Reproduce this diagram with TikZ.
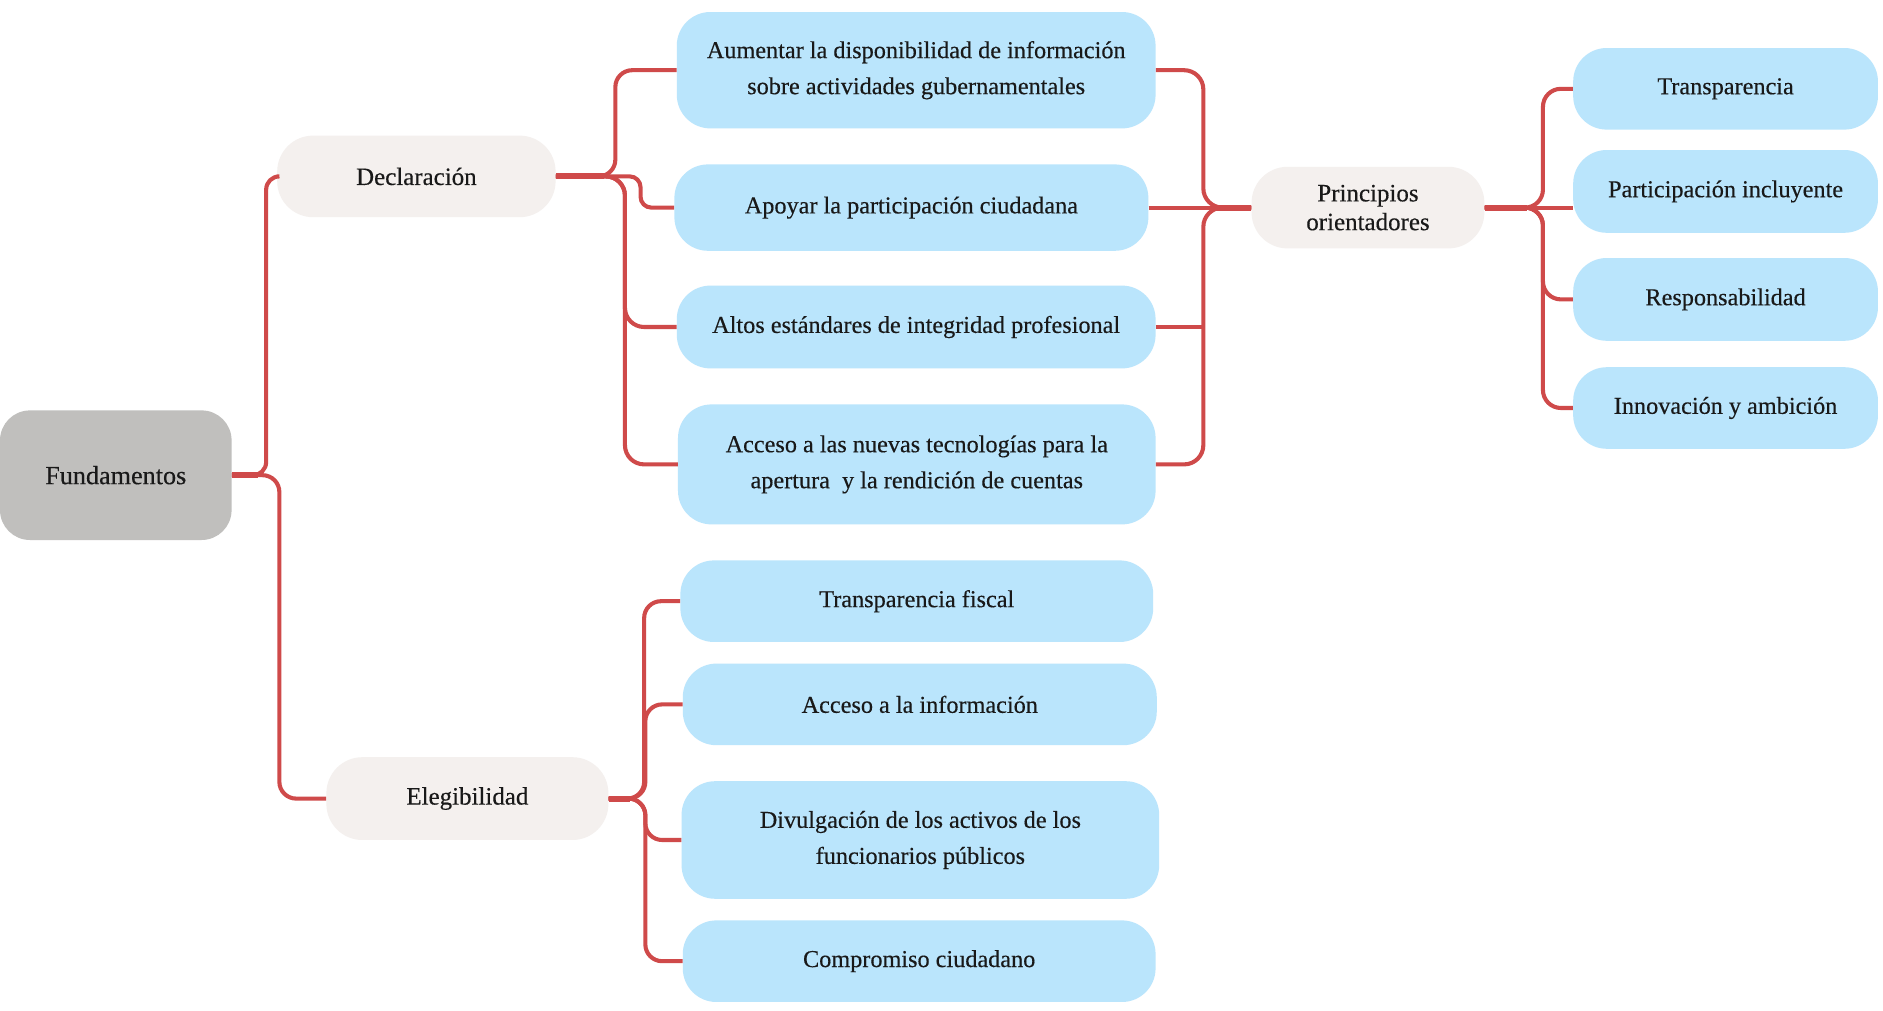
\documentclass[tikz,border=0pt]{standalone}
\usepackage{fontspec}
\setmainfont{Liberation Serif}[FakeBold=0.35]
\usetikzlibrary{calc}
\definecolor{boxblue}{HTML}{BAE5FC}
\definecolor{boxbeige}{HTML}{F4F0EE}
\definecolor{boxgray}{HTML}{C0BFBD}
\definecolor{linered}{HTML}{CF4A4A}
\begin{document}
\begin{tikzpicture}[x=1pt,y=-1pt,
  base/.style={rectangle, inner sep=0pt, align=center, text=black!90,
    font=\fontsize{20.2}{30}\selectfont},
  bluebox/.style={base, fill=boxblue, rounded corners=28pt},
  beigebox/.style={base, fill=boxbeige, rounded corners=30pt, font=\fontsize{20.8}{24}\selectfont},
  graybox/.style={base, fill=boxgray, rounded corners=25pt, font=\fontsize{21.8}{26}\selectfont},
  conn/.style={draw=linered, line width=3.4pt, rounded corners=13pt},
  trunk/.style={draw=linered, line width=5pt}]
\useasboundingbox (0,0) rectangle (1569.2,841.7);
\fill[white] (0,0) rectangle (1569.2,841.7);

% nodes
\node[graybox, minimum width=193pt, minimum height=108pt] (fund) at (96.5,396) {Fundamentos};
\node[beigebox, minimum width=232pt, minimum height=68pt] (decl) at (347,147) {Declaración};
\node[beigebox, minimum width=235pt, minimum height=69pt] (eleg) at (389.5,665.5) {Elegibilidad};
\node[beigebox, minimum width=194pt, minimum height=68pt] (prin) at (1140,173) {Principios\\orientadores};

\node[bluebox, minimum width=399pt, minimum height=97pt] (b1) at (763.5,58.5) {Aumentar la disponibilidad de información\\sobre actividades gubernamentales};
\node[bluebox, minimum width=395pt, minimum height=72pt] (b2) at (759.5,173) {Apoyar la participación ciudadana};
\node[bluebox, minimum width=399pt, minimum height=69pt] (b3) at (763.5,272.5) {Altos estándares de integridad profesional};
\node[bluebox, minimum width=398pt, minimum height=100pt] (b4) at (764,387) {Acceso a las nuevas tecnologías para la\\apertura~ y la rendición de cuentas};

\node[bluebox, minimum width=394pt, minimum height=68pt] (e1) at (764,501) {Transparencia fiscal};
\node[bluebox, minimum width=395pt, minimum height=68pt] (e2) at (766.5,587) {Acceso a la información};
\node[bluebox, minimum width=398pt, minimum height=98pt] (e3) at (767,700) {Divulgación de los activos de los\\funcionarios públicos};
\node[bluebox, minimum width=394pt, minimum height=68pt] (e4) at (766,801) {Compromiso ciudadano};

\node[bluebox, minimum width=254pt, minimum height=68pt] (r1) at (1438,74) {Transparencia};
\node[bluebox, minimum width=254pt, minimum height=69pt] (r2) at (1438,159.5) {Participación incluyente};
\node[bluebox, minimum width=254pt, minimum height=69pt] (r3) at (1438,249.5) {Responsabilidad};
\node[bluebox, minimum width=254pt, minimum height=68pt] (r4) at (1438,340) {Innovación y ambición};

% connectors: Fundamentos
\path[trunk] (fund.east) -- ++(22,0);
\path[conn, rounded corners=11pt] (fund.east) -| ([xshift=-9pt]decl.west) -- (decl.west);
\path[conn, rounded corners=14pt] (fund.east) -| ([xshift=-39pt]eleg.west) -- (eleg.west);

% Declaracion
\path[trunk] (decl.east) -- ++(40,0);
\path[conn, rounded corners=14pt] (decl.east) -| ([xshift=-51pt]b1.west) -- (b1.west);
\path[conn, rounded corners=9pt] (decl.east) -| ([xshift=-28pt]b2.west) -- (b2.west);
\path[conn, rounded corners=16pt] (decl.east) -| ([xshift=-43pt]b3.west) -- (b3.west);
\path[conn, rounded corners=16pt] (decl.east) -| ([xshift=-44pt]b4.west) -- (b4.west);

% to Principios
\path[trunk] (prin.west) -- ++(-30,0);
\path[conn, rounded corners=16pt] (b1.east) -| ([xshift=-40pt]prin.west) -- (prin.west);
\path[conn] (b2.east) -- (prin.west);
\path[conn] (b3.east) -- ([xshift=-40pt]prin.west |- b3.east);
\path[conn, rounded corners=16pt] (b4.east) -| ([xshift=-40pt]prin.west) -- (prin.west);

% Principios to right
\path[trunk] (prin.east) -- ++(35,0);
\path[conn, rounded corners=15pt] (prin.east) -| ([xshift=-25pt]r1.west) -- (r1.west);
\path[conn] (prin.east) -- (prin.east -| r2.west);
\path[conn, rounded corners=15pt] (prin.east) -| ([xshift=-25pt]r3.west) -- (r3.west);
\path[conn, rounded corners=15pt] (prin.east) -| ([xshift=-25pt]r4.west) -- (r4.west);

% Elegibilidad
\path[trunk] (eleg.east) -- ++(18,0);
\path[conn, rounded corners=14pt] (eleg.east) -| ([xshift=-30pt]e1.west) -- (e1.west);
\path[conn, rounded corners=14pt] (eleg.east) -| ([xshift=-31pt]e2.west) -- (e2.west);
\path[conn, rounded corners=14pt] (eleg.east) -| ([xshift=-30pt]e3.west) -- (e3.west);
\path[conn, rounded corners=14pt] (eleg.east) -| ([xshift=-31pt]e4.west) -- (e4.west);
\end{tikzpicture}
\end{document}
